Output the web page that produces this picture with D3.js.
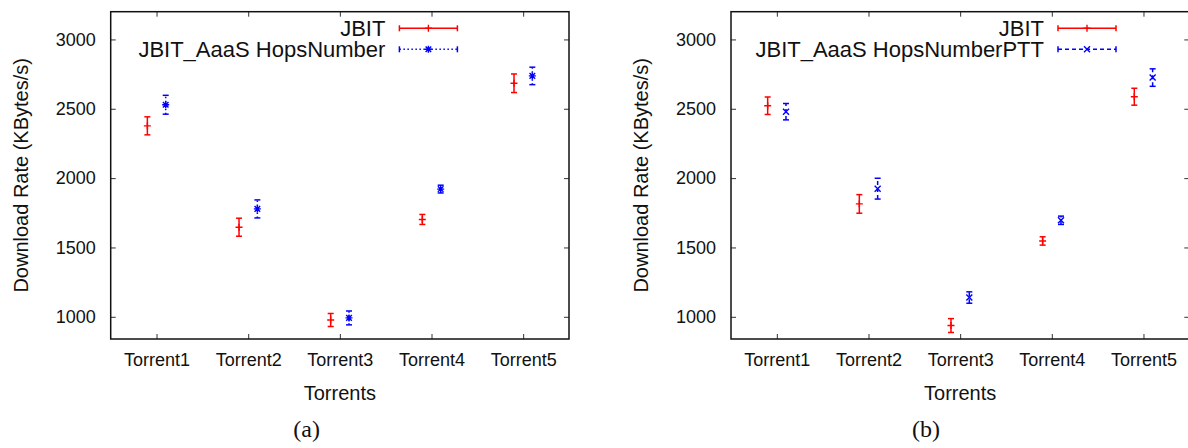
<!DOCTYPE html>
<html>
<head>
<meta charset="utf-8">
<script src="https://cdnjs.cloudflare.com/ajax/libs/d3/7.8.5/d3.min.js"></script>
<style>
  html, body { margin: 0; padding: 0; background: #fff; }
  svg { display: block; }
  .tick text { font-family: "Liberation Sans", Arimo, Arial, Helvetica, sans-serif; font-size: 18px; fill: #111; }
  .tick line { stroke: #333; stroke-width: 1; }
</style>
</head>
<body>
<svg id="chart" width="1188" height="448"></svg>
<script>
var categories = ['Torrent1', 'Torrent2', 'Torrent3', 'Torrent4', 'Torrent5']
var yTicks = [1000, 1500, 2000, 2500, 3000]

// panel (a)
var jbitMeanA = [2377, 1646, 977, 1702, 2684]
  , jbitErrA = [65, 65, 47, 36, 67]
  , hopsMeanA = [2529, 1778, 992, 1921, 2737]
  , hopsErrA = [68, 65, 50, 28, 63]

// panel (b)
var jbitMeanB = [2522, 1814, 937, 1547, 2587]
  , jbitErrB = [63, 67, 50, 30, 61]
  , pttMeanB = [2479, 1924, 1139, 1696, 2725]
  , pttErrB = [59, 75, 41, 30, 63]

var config = {
  top: 11.7, bottom: 339, plotW: 458.3,
  yDomain: [840, 3200],
  offset: 0.1, // x shift of each series around the category
  cap: 3
}

var svg = d3.select('#chart')
var font = '"Liberation Sans", Arimo, Arial, Helvetica, sans-serif'

var markers = {
  plus: 'M-3.5,0H3.5M0,-3.5V3.5',
  star: 'M-3.5,0H3.5M0,-3.5V3.5M-2.8,-2.8L2.8,2.8M-2.8,2.8L2.8,-2.8',
  cross: 'M-3,-3L3,3M-3,3L3,-3'
}

var drawPanel = function(p) {
  var g = svg.append('g')
  var x = d3.scaleLinear().domain([0.5, 5.5]).range([p.left, p.left + config.plotW])
  var y = d3.scaleLinear().domain(config.yDomain).range([config.bottom, config.top])

  g.append('g').attr('transform', 'translate(' + p.left + ',0)')
    .call(d3.axisLeft(y).tickValues(yTicks).tickFormat(d3.format('d'))
      .tickSizeInner(-5).tickSizeOuter(0).tickPadding(15))
  g.append('g').attr('transform', 'translate(' + (p.left + config.plotW) + ',0)')
    .call(d3.axisRight(y).tickValues(yTicks).tickSizeInner(-5).tickSizeOuter(0).tickFormat(''))
  g.append('g').attr('transform', 'translate(0,' + config.bottom + ')')
    .call(d3.axisBottom(x).tickValues([1, 2, 3, 4, 5]).tickSizeInner(-5).tickSizeOuter(0).tickPadding(14)
      .tickFormat(function(d) { return categories[d - 1] }))
  g.append('g').attr('transform', 'translate(0,' + config.top + ')')
    .call(d3.axisTop(x).tickValues([1, 2, 3, 4, 5]).tickSizeInner(-5).tickSizeOuter(0).tickFormat(''))
  g.selectAll('.domain').remove()

  g.append('rect')
    .attr('x', p.left).attr('y', config.top)
    .attr('width', config.plotW).attr('height', config.bottom - config.top)
    .attr('fill', 'none').attr('stroke', '#111').attr('stroke-width', 1.5)

  p.series.forEach(function(s, si) {
    var data = s.mean.map(function(m, i) { return { i: i + 1, m: m, e: s.err[i] } })
    var sg = g.append('g')
    var px = function(d) { return x(d.i + s.shift) }
    var bars = sg.selectAll('g.bar').data(data).enter().append('g').attr('class', 'bar')
    bars.append('line')
      .attr('x1', px).attr('x2', px)
      .attr('y1', function(d) { return y(d.m - d.e) })
      .attr('y2', function(d) { return y(d.m + d.e) })
      .attr('stroke', s.color).attr('stroke-width', 1.5)
      .attr('stroke-dasharray', s.dash)
    ;[-1, 1].forEach(function(sign) {
      bars.append('line')
        .attr('x1', function(d) { return px(d) - config.cap })
        .attr('x2', function(d) { return px(d) + config.cap })
        .attr('y1', function(d) { return y(d.m + sign * d.e) })
        .attr('y2', function(d) { return y(d.m + sign * d.e) })
        .attr('stroke', s.color).attr('stroke-width', 1.5)
    })
    bars.append('path')
      .attr('transform', function(d) { return 'translate(' + px(d) + ',' + y(d.m) + ')' })
      .attr('d', markers[s.marker])
      .attr('stroke', s.color).attr('stroke-width', 1.4).attr('fill', 'none')

    // legend entry
    var ly = config.top + 16.6 + si * 21
      , lx0 = p.left + p.keyX, lx1 = lx0 + 58
    var kg = g.append('g')
    kg.append('text')
      .attr('x', lx0 - 14).attr('y', ly + 7.5)
      .attr('text-anchor', 'end')
      .attr('font-family', font).attr('font-size', 22).attr('fill', '#111')
      .text(s.name)
    kg.append('line')
      .attr('x1', lx0).attr('x2', lx1).attr('y1', ly).attr('y2', ly)
      .attr('stroke', s.color).attr('stroke-width', 1.5).attr('stroke-dasharray', s.dash)
    ;[lx0, lx1].forEach(function(cx) {
      kg.append('line')
        .attr('x1', cx).attr('x2', cx).attr('y1', ly - 3).attr('y2', ly + 3)
        .attr('stroke', s.color).attr('stroke-width', 1.5)
    })
    kg.append('path')
      .attr('transform', 'translate(' + ((lx0 + lx1) / 2) + ',' + ly + ')')
      .attr('d', markers[s.marker])
      .attr('stroke', s.color).attr('stroke-width', 1.4).attr('fill', 'none')
  })

  g.append('text')
    .attr('x', p.left + config.plotW / 2).attr('y', 400)
    .attr('text-anchor', 'middle')
    .attr('font-family', font).attr('font-size', 20).attr('fill', '#111')
    .text('Torrents')
  g.append('text')
    .attr('transform', 'translate(' + (p.left - 83) + ',' + ((config.top + config.bottom) / 2) + ') rotate(-90)')
    .attr('text-anchor', 'middle')
    .attr('font-family', font).attr('font-size', 20).attr('fill', '#111')
    .text('Download Rate (KBytes/s)')
  g.append('text')
    .attr('x', p.captionX).attr('y', 437)
    .attr('text-anchor', 'middle')
    .attr('font-family', '"Liberation Serif", "Times New Roman", Times, serif').attr('font-size', 24).attr('fill', '#111')
    .text(p.caption)
}

drawPanel({
  left: 110.7, keyX: 288.7, caption: '(a)', captionX: 306.6,
  series: [
    { name: 'JBIT', mean: jbitMeanA, err: jbitErrA, color: '#ff0000', shift: -config.offset, marker: 'plus', dash: null },
    { name: 'JBIT_AaaS HopsNumber', mean: hopsMeanA, err: hopsErrA, color: '#0000ff', shift: config.offset, marker: 'star', dash: '1.5,2.5' }
  ]
})

drawPanel({
  left: 731, keyX: 327, caption: '(b)', captionX: 926,
  series: [
    { name: 'JBIT', mean: jbitMeanB, err: jbitErrB, color: '#ff0000', shift: -config.offset, marker: 'plus', dash: null },
    { name: 'JBIT_AaaS HopsNumberPTT', mean: pttMeanB, err: pttErrB, color: '#0000ff', shift: config.offset, marker: 'cross', dash: '4,3' }
  ]
})
</script>
</body>
</html>
